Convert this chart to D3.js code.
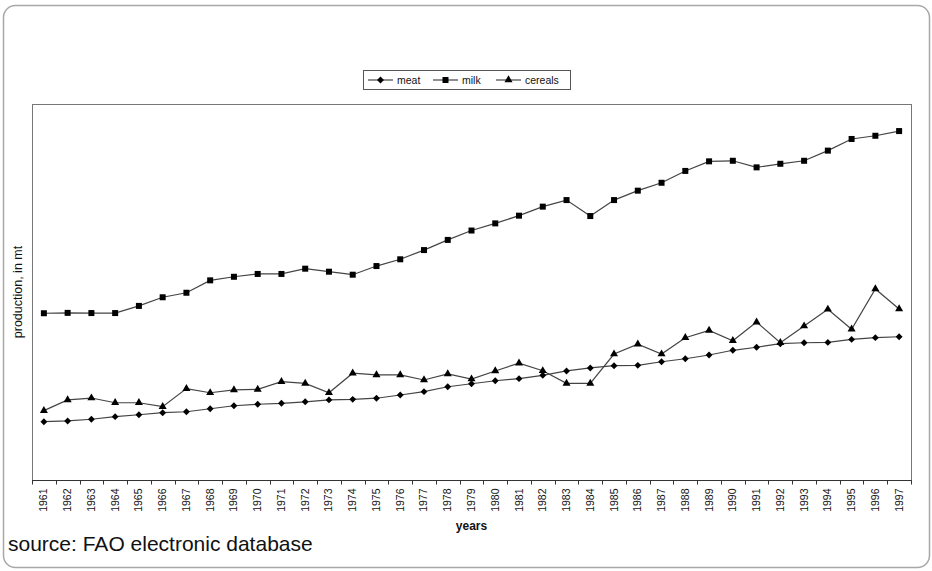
<!DOCTYPE html>
<html>
<head>
<meta charset="utf-8">
<script src="https://cdn.jsdelivr.net/npm/d3@7"></script>
<style>
  html, body { margin: 0; padding: 0; background: #fff; }
  svg { display: block; font-family: "Liberation Sans", Arial, sans-serif; }
</style>
</head>
<body>
<svg id="chart" width="932" height="571"></svg>
<script>
// Production series, 1961-1997 (million tonnes)
const years = d3.range(1961, 1998).map(String);

const meat = [31.0, 31.4, 32.3, 33.7, 34.7, 35.8, 36.3, 37.9, 39.5, 40.3,
  40.8, 41.6, 42.6, 42.9, 43.5, 45.2, 47.0, 49.6, 51.2, 52.8,
  53.9, 55.7, 58.0, 59.6, 60.8, 61.0, 62.9, 64.5, 66.5, 69.0,
  70.6, 72.5, 73.0, 73.2, 74.8, 75.7, 76.2];

const milk = [88.7, 88.9, 88.8, 88.8, 92.6, 97.2, 99.6, 106.2, 108.1, 109.6,
  109.6, 112.4, 110.8, 109.2, 113.8, 117.4, 122.3, 127.7, 132.7, 136.5,
  140.6, 145.4, 148.9, 140.4, 148.9, 153.9, 158.1, 164.4, 169.5, 169.8,
  166.3, 168.2, 169.8, 175.2, 181.4, 183.1, 185.6];

const cereals = [36.9, 42.6, 43.6, 41.1, 41.1, 39.0, 48.6, 46.4, 47.9, 48.2,
  52.3, 51.4, 46.4, 56.8, 55.9, 55.9, 53.2, 56.4, 53.7, 58.0,
  62.2, 58.1, 51.4, 51.4, 67.0, 72.2, 67.0, 75.7, 79.6, 74.1,
  84.0, 73.0, 81.9, 90.8, 80.2, 101.6, 91.0];

const seriesNames = ["meat", "milk", "cereals"];
const seriesValues = [meat, milk, cereals];
const yDomain = [0, 200];

const svg = d3.select("#chart");
const plot = { left: 32, top: 104, right: 911, bottom: 480 };

// Rounded frame around the whole figure
svg.append("rect")
  .attr("x", 3.5).attr("y", 5.5)
  .attr("width", 926).attr("height", 562)
  .attr("rx", 12).attr("ry", 12)
  .attr("fill", "#fff")
  .attr("stroke", "#a8a8a8").attr("stroke-width", 1.5);

const x = d3.scaleBand().domain(years).range([plot.left, plot.right]).padding(0);
const y = d3.scaleLinear().domain(yDomain).range([plot.bottom, plot.top]);
const cx = d => x(d) + x.bandwidth() / 2;

// Plot area box
svg.append("rect")
  .attr("x", plot.left + 0.5).attr("y", plot.top + 0.5)
  .attr("width", plot.right - plot.left).attr("height", plot.bottom - plot.top)
  .attr("fill", "none").attr("stroke", "#777").attr("stroke-width", 1);

// Category axis: ticks on category boundaries, labels rotated
const xAxis = svg.append("g").attr("transform", `translate(0,${plot.bottom + 0.5})`);
xAxis.append("line")
  .attr("x1", plot.left).attr("x2", plot.right + 0.5)
  .attr("stroke", "#333").attr("stroke-width", 1);
const bounds = years.map(d => x(d)).concat([plot.right]);
xAxis.selectAll("line.tick").data(bounds).join("line")
  .attr("class", "tick")
  .attr("x1", d => Math.round(d) + 0.5).attr("x2", d => Math.round(d) + 0.5)
  .attr("y1", 0).attr("y2", 4)
  .attr("stroke", "#333");
xAxis.selectAll("text").data(years).join("text")
  .attr("transform", d => `translate(${cx(d) + 3.5},8) rotate(-90)`)
  .attr("text-anchor", "end")
  .attr("font-size", 10.5)
  .attr("fill", "#111")
  .text(d => d);

// Lines and markers
const line = d3.line().x((v, i) => cx(years[i])).y(v => y(v));
const markerPath = {
  meat: d3.symbol(d3.symbolDiamond2, 30)(),
  milk: d3.symbol(d3.symbolSquare, 36)(),
  cereals: d3.symbol(d3.symbolTriangle, 28)()
};

seriesNames.forEach((name, k) => {
  const vals = seriesValues[k];
  svg.append("path")
    .datum(vals)
    .attr("d", line)
    .attr("fill", "none")
    .attr("stroke", "#444")
    .attr("stroke-width", 1.2);
  svg.append("g").selectAll("path").data(vals).join("path")
    .attr("transform", (v, i) => `translate(${cx(years[i])},${y(v)})`)
    .attr("d", markerPath[name])
    .attr("fill", "#000");
});

// Axis titles
svg.append("text")
  .attr("transform", `translate(22,${(plot.top + plot.bottom) / 2}) rotate(-90)`)
  .attr("text-anchor", "middle")
  .attr("font-size", 12.5)
  .attr("fill", "#111")
  .text("production, in mt");

svg.append("text")
  .attr("x", (plot.left + plot.right) / 2).attr("y", 530)
  .attr("text-anchor", "middle")
  .attr("font-size", 12)
  .attr("font-weight", "bold")
  .attr("fill", "#111")
  .text("years");

svg.append("text")
  .attr("x", 8).attr("y", 551)
  .attr("font-size", 21)
  .attr("fill", "#111")
  .text("source: FAO electronic database");

// Legend
const legend = svg.append("g");
legend.append("rect")
  .attr("x", 363.5).attr("y", 70.5)
  .attr("width", 207).attr("height", 19)
  .attr("fill", "#fff")
  .attr("stroke", "#555").attr("stroke-width", 1);
const legendX = [368, 433, 496];
seriesNames.forEach((name, k) => {
  const g = legend.append("g").attr("transform", `translate(${legendX[k]},80)`);
  g.append("line").attr("x1", 0).attr("x2", 25)
    .attr("stroke", "#444").attr("stroke-width", 1.2);
  g.append("path").attr("transform", "translate(12.5,0)")
    .attr("d", markerPath[name]).attr("fill", "#000");
  g.append("text").attr("x", 29).attr("y", 3.8)
    .attr("font-size", 10.5).attr("fill", "#111")
    .text(name);
});
</script>
</body>
</html>
